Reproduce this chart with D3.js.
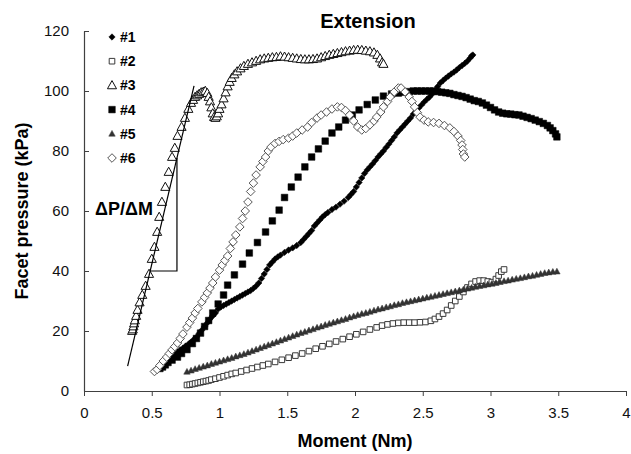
<!DOCTYPE html>
<html>
<head>
<meta charset="utf-8">
<title>Extension</title>
<style>
    body { margin: 0; padding: 0; background: #fff; }
    svg { display: block; font-family: "Liberation Sans", Arial, sans-serif; }
    .axis path, .axis line { stroke: #404040; }
    .axis text { font-size: 15px; fill: #111; }
</style>
</head>
<body>
<div id="chart"></div>
<script src="https://d3js.org/d3.v7.min.js"></script>
<script>
// tick labels
var xTicks = [0, 0.5, 1, 1.5, 2, 2.5, 3, 3.5, 4];
var yTicks = [0, 20, 40, 60, 80, 100, 120];
var seriesNames = ["#1", "#2", "#3", "#4", "#5", "#6"];

// [moment (Nm), facet pressure (kPa)]
var s1 = [[0.55,8],[0.57,8.5],[0.59,9.3],[0.61,10],[0.63,10.6],[0.65,11.3],[0.67,12.2],[0.69,13],[0.71,13.7],[0.73,14.3],
    [0.75,15],[0.77,15.6],[0.79,16.3],[0.81,17.2],[0.83,18],[0.85,19.2],[0.87,20.3],[0.89,21.5],[0.91,22.7],[0.93,24],
    [0.95,25],[0.97,26],[0.99,27.3],[1.01,28],[1.03,28.5],[1.05,29],[1.07,29.5],[1.09,30],[1.11,30.5],[1.13,31],
    [1.15,31.5],[1.17,32],[1.19,32.5],[1.21,33],[1.23,33.5],[1.25,34.2],[1.27,35],[1.29,36],[1.31,37.5],[1.33,39],
    [1.35,40.5],[1.37,42],[1.39,43],[1.41,44],[1.43,44.7],[1.45,45.3],[1.48,46.2],[1.51,47],[1.54,47.7],[1.57,48.5],
    [1.60,49.5],[1.62,50.5],[1.64,51.5],[1.66,52.5],[1.68,53.5],[1.70,55],[1.72,56],[1.74,57],[1.76,58],[1.78,58.8],
    [1.80,59.5],[1.83,60.5],[1.86,61.3],[1.89,62.3],[1.92,63.3],[1.95,64.5],[1.97,65.5],[1.99,66.5],[2.01,68],[2.03,69.5],
    [2.05,71],[2.07,72.5],[2.09,73.7],[2.11,74.7],[2.13,75.7],[2.15,76.8],[2.17,78],[2.19,79],[2.21,80],[2.23,81.2],
    [2.25,82.3],[2.27,83.5],[2.29,84.7],[2.31,86],[2.33,87],[2.35,88],[2.37,89],[2.39,90],[2.41,91],[2.43,92.3],
    [2.45,93.3],[2.47,94.3],[2.49,95.3],[2.51,96.3],[2.53,97.2],[2.55,98],[2.57,99],[2.59,100.2],[2.61,101.5],[2.63,102.7],
    [2.65,103.5],[2.67,104.3],[2.69,105],[2.71,105.7],[2.73,106.3],[2.75,107],[2.77,107.8],[2.79,108.5],[2.81,109.2],[2.83,110],
    [2.85,111],[2.86,111.7],[2.87,112]];

var s2 = [[0.76,2],[0.78,2.1],[0.80,2.3],[0.82,2.5],[0.84,2.7],[0.86,2.9],[0.88,3.1],[0.90,3.3],[0.92,3.5],[0.94,3.8],
    [0.97,4.1],[1.00,4.5],[1.03,4.9],[1.06,5.3],[1.09,5.7],[1.12,6.0],[1.16,6.5],[1.20,7.0],[1.24,7.5],[1.28,8.0],
    [1.32,8.5],[1.36,9.0],[1.41,9.7],[1.46,10.4],[1.51,11.1],[1.56,11.8],[1.61,12.5],[1.66,13.3],[1.71,14.1],[1.76,14.9],
    [1.81,15.7],[1.86,16.5],[1.91,17.3],[1.96,18.1],[2.01,18.9],[2.06,19.7],[2.11,20.5],[2.16,21.2],[2.20,21.8],[2.24,22.2],
    [2.28,22.5],[2.32,22.7],[2.36,22.8],[2.40,22.8],[2.44,22.8],[2.48,22.9],[2.52,23.0],[2.56,23.4],[2.59,24.0],[2.62,24.8],
    [2.65,25.8],[2.68,27.0],[2.71,28.5],[2.74,30.0],[2.77,31.5],[2.80,33.0],[2.83,34.5],[2.86,35.7],[2.89,36.5],[2.92,36.8],
    [2.95,36.8],[2.98,36.5],[3.01,36.3],[3.04,37.3],[3.06,38.5],[3.08,39.8],[3.10,40.5]];

var s3 = [[0.355,20],[0.36,20.5],[0.365,21.5],[0.37,22.5],[0.375,23.5],[0.385,25],[0.395,27],[0.41,29.5],[0.43,32],[0.455,35],
    [0.48,39],[0.50,44],[0.52,48],[0.54,53],[0.555,58],[0.575,63],[0.60,68],[0.625,73],[0.65,78],[0.67,81],
    [0.69,85],[0.72,88],[0.745,91],[0.77,94],[0.79,96],[0.805,97],[0.82,98],[0.835,98.5],[0.85,99],[0.865,99.5],
    [0.88,99.7],[0.895,100],[0.91,99.3],[0.92,98],[0.93,96.5],[0.94,94.5],[0.95,92.5],[0.96,91.3],[0.97,91],[0.98,91.5],
    [0.99,92.5],[1.00,94],[1.015,95.5],[1.03,97.5],[1.045,99.5],[1.06,101.5],[1.075,103],[1.09,104.3],[1.11,105.5],[1.13,106.5],
    [1.155,107.5],[1.18,108.3],[1.21,109],[1.24,109.5],[1.27,110],[1.30,110.5],[1.33,110.8],[1.36,111],[1.39,111.2],[1.42,111.3],
    [1.45,111.5],[1.48,111.4],[1.51,111.2],[1.54,111],[1.57,110.8],[1.60,110.6],[1.63,110.5],[1.66,110.5],[1.69,110.6],[1.72,110.8],
    [1.75,111.2],[1.78,111.6],[1.81,112],[1.84,112.3],[1.87,112.6],[1.90,112.9],[1.93,113.2],[1.96,113.4],[1.99,113.6],[2.02,113.7],
    [2.05,113.6],[2.08,113.4],[2.11,113.2],[2.14,112.8],[2.165,112],[2.185,110.8],[2.20,109.5],[2.21,109]];

var s4 = [[0.56,7.5],[0.58,8],[0.60,8.7],[0.62,9.5],[0.65,10.3],[0.69,11.3],[0.72,12.5],[0.76,13.8],[0.80,15.8],[0.83,17.5],
    [0.86,19.3],[0.89,21.5],[0.92,23.5],[0.95,26],[0.99,29],[1.03,32],[1.06,35.3],[1.11,38.7],[1.17,42.3],[1.22,46],
    [1.28,49.5],[1.34,53],[1.39,56.7],[1.44,60.3],[1.48,64.5],[1.53,68],[1.58,71.3],[1.63,74.7],[1.68,78],[1.73,80.7],
    [1.78,83.3],[1.83,86],[1.88,88],[1.93,90.3],[1.98,92],[2.03,93.7],[2.09,95.5],[2.15,97],[2.21,98.3],[2.27,99],
    [2.32,99.3],[2.36,99.6],[2.40,99.8],[2.43,100],[2.46,100],[2.49,100],[2.52,100],[2.55,100],[2.58,100],[2.61,99.8],
    [2.64,99.6],[2.67,99.4],[2.70,99.2],[2.73,98.8],[2.76,98.5],[2.79,98.2],[2.82,97.8],[2.85,97.3],[2.88,96.8],[2.91,96.5],
    [2.94,96],[2.97,95.3],[3.00,94.5],[3.03,93.7],[3.06,93],[3.09,92.6],[3.12,92.4],[3.15,92.3],[3.18,92.1],[3.21,92],
    [3.24,91.6],[3.27,91.2],[3.30,90.8],[3.33,90.3],[3.36,89.8],[3.39,89.2],[3.42,88.5],[3.44,87.7],[3.46,86.8],[3.48,85.7],
    [3.49,84.7]];

var s5 = [[0.76,6.4],[0.79,6.8],[0.82,7.3],[0.85,7.7],[0.88,8.1],[0.91,8.5],[0.94,9.0],[0.97,9.4],[1.00,9.8],[1.03,10.2],
    [1.06,10.6],[1.09,11.0],[1.12,11.5],[1.15,11.9],[1.18,12.3],[1.21,12.8],[1.24,13.3],[1.27,13.8],[1.30,14.3],[1.33,14.8],
    [1.36,15.3],[1.39,15.8],[1.42,16.3],[1.45,16.8],[1.48,17.3],[1.51,17.8],[1.54,18.3],[1.57,18.8],[1.60,19.3],[1.63,19.7],
    [1.66,20.2],[1.69,20.6],[1.72,21.1],[1.75,21.5],[1.78,22.0],[1.81,22.4],[1.84,22.8],[1.87,23.2],[1.90,23.6],[1.93,24.0],
    [1.96,24.5],[1.99,24.9],[2.02,25.3],[2.05,25.7],[2.08,26.0],[2.11,26.4],[2.14,26.8],[2.17,27.2],[2.20,27.5],[2.23,27.9],
    [2.26,28.2],[2.29,28.6],[2.32,28.9],[2.35,29.3],[2.38,29.6],[2.41,29.9],[2.44,30.2],[2.47,30.5],[2.50,30.8],[2.53,31.1],
    [2.56,31.4],[2.59,31.7],[2.62,32.0],[2.65,32.3],[2.68,32.6],[2.71,32.9],[2.74,33.2],[2.77,33.5],[2.80,33.8],[2.83,34.1],
    [2.86,34.4],[2.89,34.7],[2.92,35.0],[2.95,35.2],[2.98,35.5],[3.01,35.7],[3.04,36.0],[3.07,36.3],[3.10,36.6],[3.13,36.8],
    [3.16,37.1],[3.19,37.4],[3.22,37.6],[3.25,37.9],[3.28,38.2],[3.31,38.4],[3.34,38.7],[3.37,39.0],[3.40,39.3],[3.43,39.5],
    [3.46,39.7],[3.49,39.8]];

var s6 = [[0.52,6.5],[0.54,7.2],[0.56,8.5],[0.585,10],[0.61,11.3],[0.63,12.5],[0.65,13.7],[0.67,14.8],[0.69,16],[0.71,17.5],
    [0.73,19],[0.76,21.3],[0.78,22.8],[0.80,24.3],[0.82,26],[0.84,27.5],[0.87,29.7],[0.89,31.2],[0.91,32.7],[0.93,34.3],
    [0.95,36],[0.97,38],[1.0,40.3],[1.02,42],[1.04,43.5],[1.06,45],[1.08,47.5],[1.10,49.7],[1.12,52],[1.15,54.7],
    [1.17,57.5],[1.19,60],[1.21,63],[1.23,66.5],[1.25,69.3],[1.27,72],[1.30,74.7],[1.32,76.5],[1.34,78],[1.36,80],
    [1.38,81.3],[1.41,82.5],[1.44,83.2],[1.47,83.8],[1.51,84.3],[1.54,85],[1.57,86],[1.61,87],[1.65,88],[1.68,89.5],
    [1.72,91],[1.75,92],[1.79,93],[1.83,94],[1.87,94.7],[1.90,94.5],[1.93,93.5],[1.96,92],[1.99,90],[2.02,88],
    [2.05,87],[2.08,87.5],[2.11,88.7],[2.14,90],[2.16,91.3],[2.19,93],[2.21,94.7],[2.24,96.5],[2.26,98],[2.29,99.7],
    [2.32,101],[2.34,101],[2.37,99.7],[2.40,98],[2.42,96.5],[2.44,94.7],[2.46,92.8],[2.48,91.3],[2.51,90.3],[2.54,89.7],
    [2.58,89.5],[2.62,89.2],[2.66,88.5],[2.70,87.7],[2.73,86.5],[2.76,85],[2.78,83.5],[2.79,82],[2.795,80.5],[2.80,79],
    [2.81,78]];

// slope annotation (dP/dM) for #3
var slopeLine = [[0.322, 8.3], [0.812, 101.7]];
var slopeBox = [[0.488, 40], [0.686, 40], [0.686, 77.7]];

var width = 631, height = 454;

var svg = d3.select("#chart").append("svg")
    .attr("width", width)
    .attr("height", height);

var x = d3.scaleLinear().domain([0, 4]).range([84, 626]);
var y = d3.scaleLinear().domain([0, 120]).range([391, 31]);

// marker shapes
function diamond(r) { return "M0," + (-r) + "L" + r + ",0L0," + r + "L" + (-r) + ",0Z"; }
function square(r) { return "M" + (-r) + "," + (-r) + "h" + (2 * r) + "v" + (2 * r) + "h" + (-2 * r) + "Z"; }
function triangle(r) { return "M0," + (-r) + "L" + (r * 0.95) + "," + (r * 0.7) + "L" + (-r * 0.95) + "," + (r * 0.7) + "Z"; }

var styles = [
    { data: s1, path: diamond(3.2), fill: "#000", stroke: "#000", sw: 0.5 },
    { data: s2, path: square(2.8), fill: "#fff", stroke: "#3a3a3a", sw: 1 },
    { data: s3, path: triangle(4.8), fill: "#fff", stroke: "#111", sw: 1 },
    { data: s4, path: square(3.3), fill: "#000", stroke: "#000", sw: 0.5 },
    { data: s5, path: triangle(3.4), fill: "#333", stroke: "#333", sw: 0.5 },
    { data: s6, path: diamond(4.3), fill: "#fff", stroke: "#555", sw: 1 }
];

// axes
var xAxis = d3.axisBottom(x)
    .tickValues(xTicks)
    .tickFormat(d3.format(""))
    .tickSizeInner(5)
    .tickSizeOuter(0)
    .tickPadding(11);

var yAxis = d3.axisLeft(y)
    .tickValues(yTicks)
    .tickSizeInner(-5)
    .tickSizeOuter(0)
    .tickPadding(15);

svg.append("g")
    .attr("class", "axis")
    .attr("transform", "translate(0," + y(0) + ")")
    .call(xAxis);

svg.append("g")
    .attr("class", "axis")
    .attr("transform", "translate(" + x(0) + ",0)")
    .call(yAxis);

svg.selectAll(".axis .domain").attr("stroke-width", 1.2);

// series
styles.forEach(function (s) {
    svg.append("g")
        .selectAll("path")
        .data(s.data)
        .enter().append("path")
        .attr("d", s.path)
        .attr("transform", function (d) { return "translate(" + x(d[0]) + "," + y(d[1]) + ")"; })
        .attr("fill", s.fill)
        .attr("stroke", s.stroke)
        .attr("stroke-width", s.sw);
});

// slope line + box
var line = d3.line().x(function (d) { return x(d[0]); }).y(function (d) { return y(d[1]); });
svg.append("path").attr("d", line(slopeLine)).attr("fill", "none").attr("stroke", "#000").attr("stroke-width", 1.2);
svg.append("path").attr("d", line(slopeBox)).attr("fill", "none").attr("stroke", "#000").attr("stroke-width", 1.2);

svg.append("text")
    .attr("x", 95).attr("y", 215)
    .style("font-size", "18px").style("font-weight", "bold")
    .text("\u0394P/\u0394M");

// legend
var legend = svg.append("g");
styles.forEach(function (s, i) {
    var ly = 37 + i * 24.2;
    legend.append("path")
        .attr("d", s.path)
        .attr("transform", "translate(112," + ly + ")")
        .attr("fill", s.fill)
        .attr("stroke", s.stroke)
        .attr("stroke-width", s.sw);
    legend.append("text")
        .attr("x", 120).attr("y", ly + 5)
        .style("font-size", "14px").style("font-weight", "bold")
        .text(seriesNames[i]);
});

// titles
svg.append("text")
    .attr("x", 368).attr("y", 28)
    .attr("text-anchor", "middle")
    .style("font-size", "20px").style("font-weight", "bold")
    .text("Extension");

svg.append("text")
    .attr("x", (x(0) + x(4)) / 2).attr("y", 447)
    .attr("text-anchor", "middle")
    .style("font-size", "18px").style("font-weight", "bold")
    .text("Moment (Nm)");

svg.append("text")
    .attr("transform", "translate(28," + ((y(0) + y(120)) / 2) + ") rotate(-90)")
    .attr("text-anchor", "middle")
    .style("font-size", "18px").style("font-weight", "bold")
    .text("Facet pressure (kPa)");
</script>
</body>
</html>
